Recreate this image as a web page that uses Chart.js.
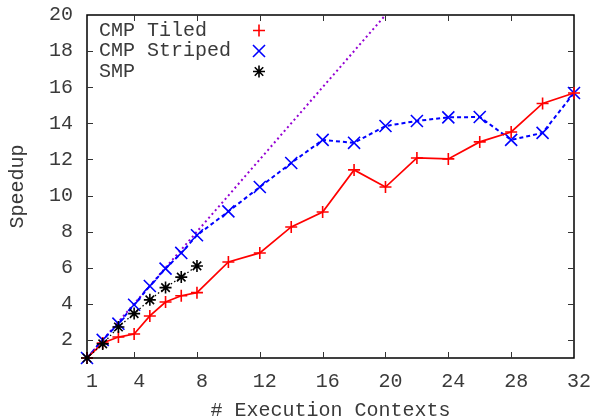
<!DOCTYPE html>
<html>
<head>
<meta charset="utf-8">
<script src="https://cdn.jsdelivr.net/npm/chart.js@4/dist/chart.umd.min.js"></script>
<style>
  html, body { margin: 0; padding: 0; background: #fff; }
  #wrap { width: 594px; height: 419px; position: relative; }
</style>
</head>
<body>
<div id="wrap"><canvas id="c" width="594" height="419"></canvas></div>
<script>
// ---- data ----
const contextsTiled   = [1,2,3,4,5,6,7,8,10,12,14,16,18,20,22,24,26,28,30,32];
const speedupTiled    = [1.0,1.83,2.16,2.33,3.33,4.1,4.45,4.62,6.32,6.82,8.26,9.09,11.42,10.47,12.08,12.03,12.97,13.52,15.1,15.68];
const contextsStriped = [1,2,3,4,5,6,7,8,10,12,14,16,18,20,22,24,26,28,30,32];
const speedupStriped  = [1.0,2.0,2.9,3.95,4.99,5.95,6.82,7.8,9.12,10.47,11.8,13.08,12.92,13.85,14.13,14.33,14.35,13.08,13.47,15.68];
const contextsSMP     = [1,2,3,4,5,6,7,8];
const speedupSMP      = [1.0,1.78,2.72,3.46,4.22,4.9,5.48,6.1];
const idealX          = [1,20];
const idealY          = [1,20];
const xTickValues     = [1,4,8,12,16,20,24,28,32];
const yTickValues     = [2,4,6,8,10,12,14,16,18,20];
const seriesNames     = ['CMP Tiled','CMP Striped','SMP'];

const FONT = 'Liberation Mono';
const TEXT = '#3a3a3a';
const pts = (xs, ys) => xs.map((x, i) => ({x: x, y: ys[i]}));

const boxPlugin = {
  id: 'gnuBox',
  beforeDatasetsDraw(chart) {
    const {ctx, chartArea: a, scales} = chart;
    ctx.save();
    ctx.strokeStyle = '#000';
    ctx.lineWidth = 1.5;
    ctx.strokeRect(a.left, a.top, a.right - a.left, a.bottom - a.top);
    ctx.lineWidth = 1;
    ctx.strokeStyle = '#333';
    const tl = 6;
    ctx.beginPath();
    xTickValues.forEach(v => {
      if (v === scales.x.min || v === scales.x.max) return;
      const px = Math.round(scales.x.getPixelForValue(v)) + 0.5;
      ctx.moveTo(px, a.bottom); ctx.lineTo(px, a.bottom - tl);
      ctx.moveTo(px, a.top); ctx.lineTo(px, a.top + tl);
    });
    yTickValues.forEach(v => {
      if (v === scales.y.min || v === scales.y.max) return;
      const py = Math.round(scales.y.getPixelForValue(v)) + 0.5;
      ctx.moveTo(a.left, py); ctx.lineTo(a.left + tl, py);
      ctx.moveTo(a.right, py); ctx.lineTo(a.right - tl, py);
    });
    ctx.stroke();
    ctx.restore();
  },
  afterDraw(chart) {
    const {ctx} = chart;
    ctx.save();
    ctx.font = '20px "' + FONT + '"';
    ctx.textBaseline = 'middle';
    ctx.textAlign = 'left';
    const rows = [30.5, 51, 71.5];
    const ds = chart.data.datasets;
    for (let i = 0; i < 3; i++) {
      ctx.fillStyle = TEXT;
      ctx.fillText(seriesNames[i], 99, rows[i]);
      const d = ds[i];
      ctx.strokeStyle = d.pointBorderColor;
      ctx.fillStyle = d.pointBorderColor;
      ctx.lineWidth = d.pointBorderWidth;
      Chart.helpers.drawPoint(ctx, {pointStyle: d.pointStyle, radius: d.pointRadius, rotation: 0, borderWidth: d.pointBorderWidth}, 259, rows[i]);
    }
    ctx.restore();
  }
};

new Chart(document.getElementById('c'), {
  type: 'scatter',
  data: {
    datasets: [
      {
        label: seriesNames[0], data: pts(contextsTiled, speedupTiled), showLine: true,
        borderColor: '#ff0000', borderWidth: 1.7, pointStyle: 'cross', pointRadius: 6,
        pointBorderColor: '#ff0000', pointBorderWidth: 1.6, pointBackgroundColor: '#ff0000', clip: false, order: 2
      },
      {
        label: seriesNames[1], data: pts(contextsStriped, speedupStriped), showLine: true,
        borderColor: '#0000ff', borderWidth: 2, borderDash: [4, 3], pointStyle: 'crossRot', pointRadius: 8.5,
        pointBorderColor: '#0000ff', pointBorderWidth: 1.6, pointBackgroundColor: '#0000ff', clip: false, order: 3
      },
      {
        label: seriesNames[2], data: pts(contextsSMP, speedupSMP), showLine: true,
        borderColor: '#000000', borderWidth: 1.3, borderDash: [1.5, 2.5], pointStyle: 'star', pointRadius: 6,
        pointBorderColor: '#000000', pointBorderWidth: 1.6, pointBackgroundColor: '#000000', clip: false, order: 1
      },
      {
        label: 'ideal', data: pts(idealX, idealY), showLine: true,
        borderColor: '#9400d3', borderWidth: 2, borderDash: [2, 3], pointRadius: 0, clip: false, order: 4
      }
    ]
  },
  plugins: [boxPlugin],
  options: {
    responsive: false,
    animation: false,
    events: [],
    layout: { padding: { top: 15, right: 20, left: 0, bottom: -4 } },
    plugins: { legend: { display: false }, tooltip: { enabled: false } },
    scales: {
      x: {
        type: 'linear', min: 1, max: 32,
        afterBuildTicks: s => { s.ticks = xTickValues.map(v => ({value: v})); },
        afterFit: s => { s.height = 65; s.paddingLeft = 0; s.paddingRight = 0; },
        grid: { display: false, drawTicks: false },
        border: { display: false },
        ticks: { color: TEXT, font: { family: FONT, size: 20 }, padding: 12, labelOffset: 5, maxRotation: 0, autoSkip: false },
        title: { display: true, text: '# Execution Contexts', color: TEXT, font: { family: FONT, size: 20 }, padding: { top: 0, bottom: 0 } }
      },
      y: {
        type: 'linear', min: 1, max: 20,
        afterBuildTicks: s => { s.ticks = yTickValues.map(v => ({value: v})); },
        afterFit: s => { s.width = 87; s.paddingTop = 0; s.paddingBottom = 0; },
        grid: { display: false, drawTicks: false },
        border: { display: false },
        ticks: { color: TEXT, font: { family: FONT, size: 20 }, padding: 14, autoSkip: false },
        title: { display: true, text: 'Speedup', color: TEXT, font: { family: FONT, size: 20 }, padding: { top: 6, bottom: 0 } }
      }
    }
  }
});
</script>
</body>
</html>
